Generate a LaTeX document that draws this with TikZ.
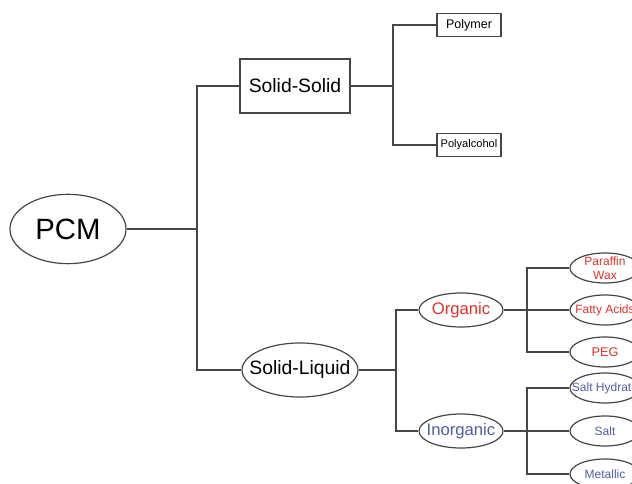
\documentclass[tikz,border=0pt]{standalone}
\usepackage{fontspec}
\setmainfont{Liberation Sans}
\usetikzlibrary{shapes.geometric}
\definecolor{linegray}{RGB}{70,70,70}
\definecolor{orgred}{RGB}{226,48,38}
\definecolor{inorgblue}{RGB}{82,92,160}
\tikzset{every picture/.style={line width=0.9pt}}
\tikzset{
  ellnode/.style={ellipse,draw=linegray,inner xsep=-8pt,inner ysep=-3pt,align=center},
  boxnode/.style={rectangle,draw=linegray,inner sep=0pt},
  leafnode/.style={ellnode,minimum width=52.5pt,minimum height=22.5pt,font=\fontsize{9}{10.5}\selectfont},
  link/.style={draw=linegray}
}

\begin{document}
\begin{tikzpicture}[x=0.75pt,y=0.75pt,yscale=-1,xscale=1]
\useasboundingbox (0,0) rectangle (632,484);
\clip (0,0) rectangle (632,484);

% Root
\node [ellnode,minimum width=87pt,minimum height=52pt,font=\fontsize{22}{25}\selectfont] (pcm) at (68,229) {PCM};
% First level
\node [boxnode,minimum width=82.5pt,minimum height=40.5pt,font=\fontsize{14.5}{17}\selectfont] (ss) at (295,86) {Solid-Solid};
\node [ellnode,minimum width=87pt,minimum height=40.5pt,font=\fontsize{14.5}{17}\selectfont] (sl) at (300,370) {Solid-Liquid};
% Solid-Solid children
\node [boxnode,minimum width=48pt,minimum height=17.25pt,font=\fontsize{9.4}{11}\selectfont] (polym) at (469,25) {Polymer};
\node [boxnode,minimum width=48pt,minimum height=17.25pt,font=\fontsize{8.3}{10}\selectfont] (polyal) at (469,145) {Polyalcohol};
% Solid-Liquid children
\node [ellnode,minimum width=63pt,minimum height=25.5pt,text=orgred,font=\fontsize{12.5}{15}\selectfont] (org) at (461,310) {Organic};
\node [ellnode,minimum width=63pt,minimum height=25.5pt,text=inorgblue,font=\fontsize{12.5}{15}\selectfont] (inorg) at (461,431) {Inorganic};
% Organic children
\node [leafnode,text=orgred] (paraf) at (605,268) {Paraffin\\Wax};
\node [leafnode,text=orgred] (fatty) at (605,310) {Fatty Acids};
\node [leafnode,text=orgred,font=\fontsize{9.5}{11}\selectfont] (peg) at (605,352) {PEG};
% Inorganic children
\node [leafnode,text=inorgblue] (hydr) at (605,388) {Salt Hydrate};
\node [leafnode,text=inorgblue] (salt) at (605,431) {Salt};
\node [leafnode,text=inorgblue] (metal) at (605,474) {Metallic};

% Junctions
\coordinate (jroot) at (197,229);
\coordinate (jss) at (393,86);
\coordinate (jsl) at (396,370);
\coordinate (jorg) at (527,310);
\coordinate (jinorg) at (527,431);

% Connectors
\draw [link] (pcm.east) -- (jroot);
\draw [link] (ss.west) -| (jroot) |- (sl.west);
\draw [link] (ss.east) -- (jss);
\draw [link] (polym.west) -| (jss) |- (polyal.west);
\draw [link] (sl.east) -- (jsl);
\draw [link] (org.west) -| (jsl) |- (inorg.west);
\draw [link] (org.east) -- (fatty.west);
\draw [link] (paraf.west) -| (jorg) |- (peg.west);
\draw [link] (inorg.east) -- (salt.west);
\draw [link] (hydr.west) -| (jinorg) |- (metal.west);

\end{tikzpicture}
\end{document}
